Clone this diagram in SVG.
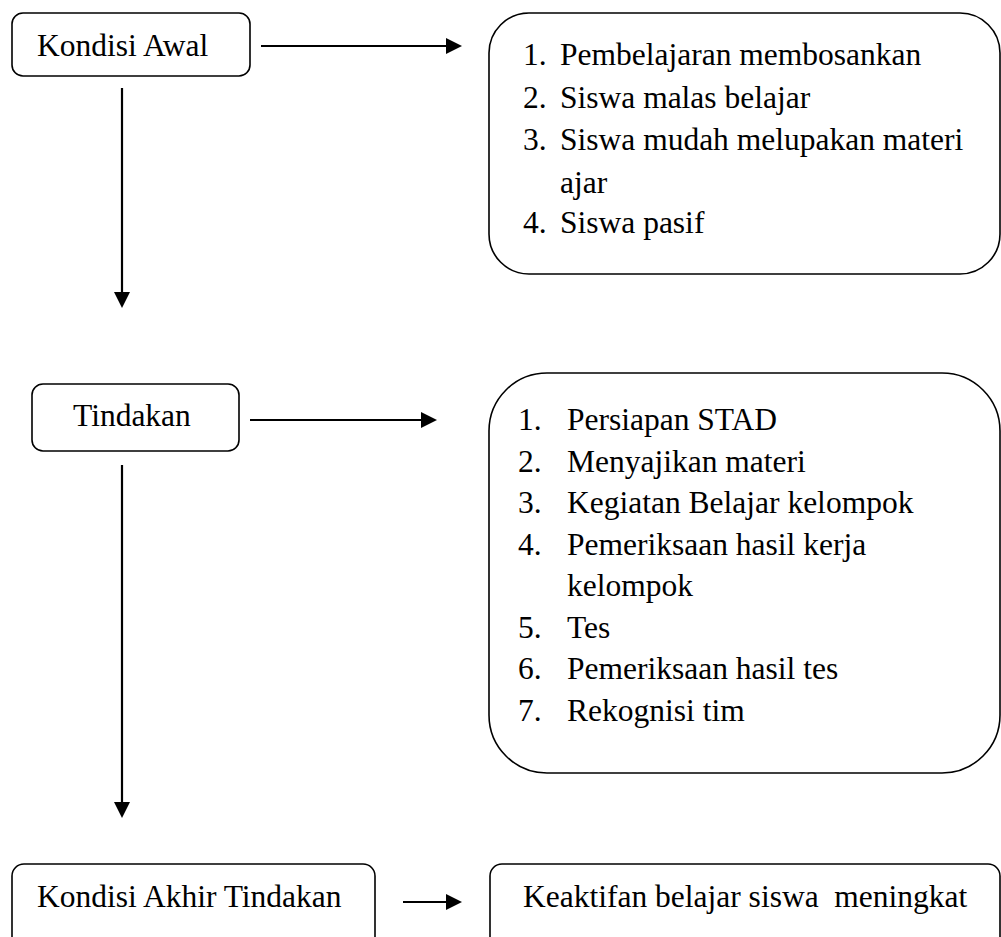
<svg xmlns="http://www.w3.org/2000/svg" width="1001" height="937" viewBox="0 0 1001 937">
<style>
.box{fill:#fff;stroke:#000;stroke-width:1.6}
.t{font-family:"Liberation Serif","Times New Roman",serif;font-size:31.5px;fill:#000}
.c{stroke:#000;stroke-width:2.2;fill:none}
</style>
<defs>
<marker id="ah" markerUnits="userSpaceOnUse" markerWidth="16" markerHeight="16" viewBox="0 0 16 16" refX="6" refY="8" orient="auto">
<path d="M0,0 L16,8 L0,16 z" fill="#000"/>
</marker>
</defs>
<rect width="1001" height="937" fill="#fff"/>
<g id="connectors">
<line class="c" x1="261" y1="46" x2="452" y2="46" marker-end="url(#ah)"/>
<line class="c" x1="122" y1="88" x2="122" y2="298" marker-end="url(#ah)"/>
<line class="c" x1="250" y1="420" x2="427" y2="420" marker-end="url(#ah)"/>
<line class="c" x1="122" y1="465" x2="122" y2="808" marker-end="url(#ah)"/>
<line class="c" x1="403" y1="902" x2="452" y2="902" marker-end="url(#ah)"/>
</g>
<g id="kondisi-awal">
<rect class="box" x="12" y="13" width="238" height="63" rx="11"/>
<text class="t" x="37" y="56">Kondisi Awal</text>
</g>
<g id="masalah">
<rect class="box" x="489" y="13" width="511" height="261" rx="40"/>
<text class="t" x="523" y="65">1.</text><text class="t" x="560" y="65">Pembelajaran membosankan</text>
<text class="t" x="523" y="108">2.</text><text class="t" x="560" y="108">Siswa malas belajar</text>
<text class="t" x="523" y="150">3.</text><text class="t" x="560" y="150">Siswa mudah melupakan materi</text>
<text class="t" x="560" y="193">ajar</text>
<text class="t" x="523" y="233">4.</text><text class="t" x="560" y="233">Siswa pasif</text>
</g>
<g id="tindakan">
<rect class="box" x="32" y="384" width="207" height="67" rx="11"/>
<text class="t" x="73" y="426">Tindakan</text>
</g>
<g id="langkah">
<rect class="box" x="489" y="373" width="511" height="400" rx="58"/>
<text class="t" x="518" y="430">1.</text><text class="t" x="567" y="430">Persiapan STAD</text>
<text class="t" x="518" y="471.5">2.</text><text class="t" x="567" y="471.5">Menyajikan materi</text>
<text class="t" x="518" y="513">3.</text><text class="t" x="567" y="513">Kegiatan Belajar kelompok</text>
<text class="t" x="518" y="554.5">4.</text><text class="t" x="567" y="554.5">Pemeriksaan hasil kerja</text>
<text class="t" x="567" y="596">kelompok</text>
<text class="t" x="518" y="637.5">5.</text><text class="t" x="567" y="637.5">Tes</text>
<text class="t" x="518" y="679">6.</text><text class="t" x="567" y="679">Pemeriksaan hasil tes</text>
<text class="t" x="518" y="720.5">7.</text><text class="t" x="567" y="720.5">Rekognisi tim</text>
</g>
<g id="kondisi-akhir">
<rect class="box" x="12" y="864" width="363" height="100" rx="12"/>
<text class="t" x="37" y="907">Kondisi Akhir Tindakan</text>
</g>
<g id="hasil">
<rect class="box" x="490" y="864" width="510" height="100" rx="12"/>
<text class="t" x="523" y="907" style="white-space:pre">Keaktifan belajar siswa  meningkat</text>
</g>
</svg>
